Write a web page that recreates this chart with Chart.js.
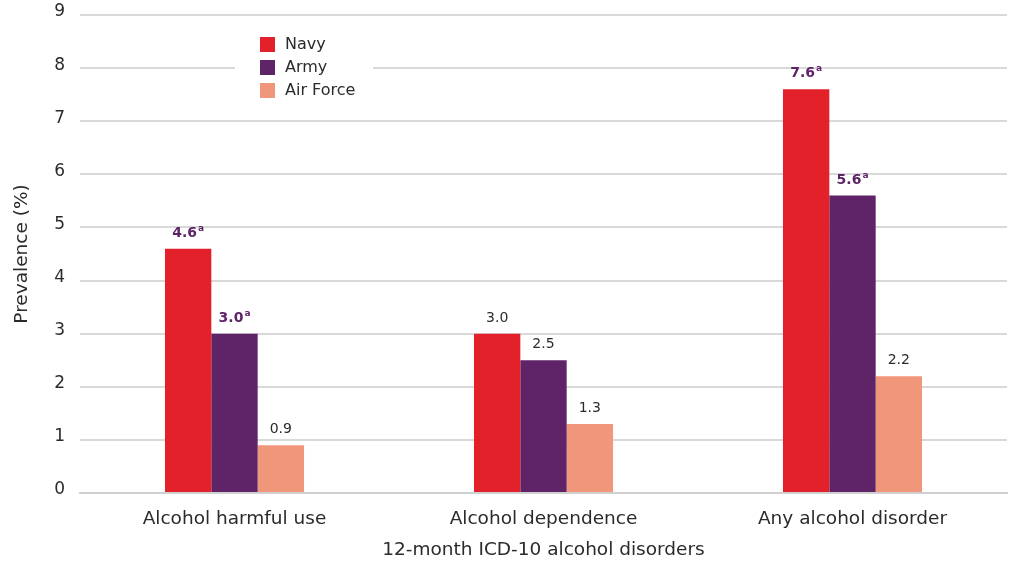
<!DOCTYPE html>
<html>
<head>
<meta charset="utf-8">
<script src="https://cdn.jsdelivr.net/npm/chart.js@4/dist/chart.umd.min.js"></script>
<style>
  html, body { margin: 0; padding: 0; background: #fff; }
  #wrap { width: 1009px; height: 563px; }
</style>
</head>
<body>
<div id="wrap"><canvas id="alcoholChart"></canvas></div>
<script>
const categories = ['Alcohol harmful use', 'Alcohol dependence', 'Any alcohol disorder'];
const seriesNames = ['Navy', 'Army', 'Air Force'];
const navyValues = [4.6, 3.0, 7.6];
const armyValues = [3.0, 2.5, 5.6];
const airForceValues = [0.9, 1.3, 2.2];
// significant difference flags (superscript "a")
const navyFlags = [true, false, true];
const armyFlags = [true, false, true];
const airForceFlags = [false, false, false];
const yTicks = [0, 1, 2, 3, 4, 5, 6, 7, 8, 9];

const FONT = "'DejaVu Sans', sans-serif";
const colors = ['#E3212A', '#5F2368', '#F0967A'];
const flagColor = '#5F2368';
const textColor = '#2b2b2b';

// bar value labels, bold purple when flagged
const valueLabels = {
  id: 'valueLabels',
  afterDatasetsDraw(chart) {
    const ctx = chart.ctx;
    ctx.save();
    ctx.textBaseline = 'alphabetic';
    chart.data.datasets.forEach((ds, di) => {
      const meta = chart.getDatasetMeta(di);
      meta.data.forEach((bar, i) => {
        const text = ds.data[i].toFixed(1);
        const flagged = ds.flags[i];
        ctx.font = (flagged ? 'bold ' : '') + '14px ' + FONT;
        ctx.fillStyle = flagged ? flagColor : textColor;
        const w = ctx.measureText(text).width;
        const supW = flagged ? 7 : 0;
        const x0 = bar.x - (w + supW) / 2;
        const y = bar.y - 12;
        ctx.textAlign = 'left';
        ctx.fillText(text, x0, y);
        if (flagged) {
          ctx.font = 'bold 9px ' + FONT;
          ctx.fillText('a', x0 + w + 1, y - 6);
        }
      });
    });
    ctx.restore();
  }
};

// legend box sitting on top of the grid
const boxLegend = {
  id: 'boxLegend',
  afterDraw(chart) {
    const ctx = chart.ctx;
    ctx.save();
    ctx.fillStyle = '#fff';
    ctx.fillRect(235, 30, 138, 74);
    ctx.font = '16px ' + FONT;
    ctx.textBaseline = 'middle';
    ctx.textAlign = 'left';
    chart.data.datasets.forEach((ds, i) => {
      const y = 44 + i * 23;
      ctx.fillStyle = ds.backgroundColor;
      ctx.fillRect(260, y - 7, 15, 15);
      ctx.fillStyle = textColor;
      ctx.fillText(ds.label, 285, y + 1);
    });
    ctx.restore();
  }
};

new Chart(document.getElementById('alcoholChart'), {
  type: 'bar',
  data: {
    labels: categories,
    datasets: [
      { label: seriesNames[0], data: navyValues, flags: navyFlags, backgroundColor: colors[0] },
      { label: seriesNames[1], data: armyValues, flags: armyFlags, backgroundColor: colors[1] },
      { label: seriesNames[2], data: airForceValues, flags: airForceFlags, backgroundColor: colors[2] },
    ],
  },
  options: {
    responsive: true,
    maintainAspectRatio: false,
    animation: false,
    layout: { padding: { top: 15, right: 2, left: 7, bottom: 2 } },
    datasets: { bar: { categoryPercentage: 0.45, barPercentage: 1.0 } },
    plugins: {
      legend: { display: false },
      tooltip: { enabled: false },
    },
    scales: {
      x: {
        grid: { display: false },
        border: { color: '#d0d0d0', width: 2 },
        ticks: { color: textColor, font: { family: FONT, size: 18.5 }, padding: 7 },
        title: {
          display: true,
          text: '12-month ICD-10 alcohol disorders',
          color: textColor,
          font: { family: FONT, size: 18.5 },
          padding: { top: 9, bottom: 0 },
        },
        afterFit: scale => {
          scale.height = 68;
          scale.paddingLeft = 0;
          scale.paddingRight = 0;
        },
      },
      y: {
        min: 0,
        max: 9,
        afterBuildTicks: axis => { axis.ticks = yTicks.map(v => ({ value: v })); },
        grid: { color: '#d9d9d9', lineWidth: 2, drawTicks: false },
        border: { display: false },
        ticks: { color: textColor, font: { family: FONT, size: 17 }, padding: 15, labelOffset: -3 },
        title: {
          display: true,
          text: 'Prevalence (%)',
          color: textColor,
          font: { family: FONT, size: 18.5 },
          padding: { bottom: 22 },
        },
        afterFit: scale => {
          scale.width = 73;
          scale.paddingTop = 0;
          scale.paddingBottom = 0;
        },
      },
    },
  },
  plugins: [valueLabels, boxLegend],
});
</script>
</body>
</html>
